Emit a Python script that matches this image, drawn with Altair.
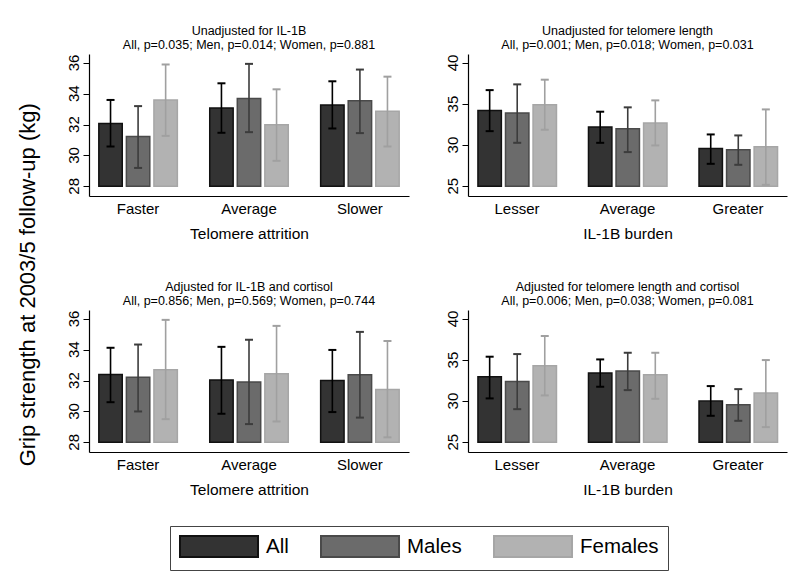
import altair as alt
import pandas as pd

FONT = "Liberation Sans"

series = ["All", "Males", "Females"]
fill_colors = ["#333333", "#6b6b6b", "#b2b2b2"]
stroke_colors = ["#111111", "#4a4a4a", "#a6a6a6"]
err_colors = ["#000000", "#3c3c3c", "#a0a0a0"]

telomere_groups = ["Faster", "Average", "Slower"]
il1b_groups = ["Lesser", "Average", "Greater"]

# Panel 1: Unadjusted for IL-1B (telomere attrition) -- order: group x series
p1_mean = [32.08, 31.23, 33.60, 33.08, 33.70, 31.99, 33.27, 33.55, 32.86]
p1_lo = [30.58, 29.19, 31.27, 31.47, 31.51, 29.65, 31.75, 31.45, 30.58]
p1_hi = [33.60, 33.20, 35.90, 34.68, 35.94, 34.29, 34.81, 35.57, 35.11]

# Panel 2: Unadjusted for telomere length (IL-1B burden)
p2_mean = [34.23, 33.90, 34.92, 32.20, 32.00, 32.68, 29.60, 29.43, 29.80]
p2_lo = [31.70, 30.28, 31.87, 30.28, 29.15, 29.96, 27.72, 27.60, 25.16]
p2_hi = [36.70, 37.40, 37.97, 34.07, 34.60, 35.45, 31.30, 31.18, 34.35]

# Panel 3: Adjusted for IL-1B and cortisol (telomere attrition)
p3_mean = [32.39, 32.22, 32.71, 32.04, 31.91, 32.45, 32.00, 32.38, 31.42]
p3_lo = [30.60, 30.00, 29.50, 29.85, 29.18, 29.35, 29.96, 29.60, 28.32]
p3_hi = [34.13, 34.34, 35.94, 34.19, 34.65, 35.55, 33.99, 35.16, 34.57]

# Panel 4: Adjusted for telomere length and cortisol (IL-1B burden)
p4_mean = [32.97, 32.40, 34.31, 33.41, 33.66, 33.21, 30.00, 29.55, 30.98]
p4_lo = [30.33, 29.02, 30.69, 31.75, 31.34, 30.28, 28.21, 27.60, 26.83]
p4_hi = [35.41, 35.73, 37.93, 35.08, 35.89, 35.89, 31.83, 31.46, 35.00]

titles = [
    ["Unadjusted for IL-1B", "All, p=0.035; Men, p=0.014; Women, p=0.881"],
    ["Unadjusted for telomere length", "All, p=0.001; Men, p=0.018; Women, p=0.031"],
    ["Adjusted for IL-1B and cortisol", "All, p=0.856; Men, p=0.569; Women, p=0.744"],
    ["Adjusted for telomere length and cortisol", "All, p=0.006; Men, p=0.038; Women, p=0.081"],
]
x_titles = ["Telomere attrition", "IL-1B burden"]
y_title = "Grip strength at 2003/5 follow-up (kg)"

left_ticks = [28, 30, 32, 34, 36]
right_ticks = [25, 30, 35, 40]


def make_df(groups, mean, lo, hi):
    rows = []
    i = 0
    for g in groups:
        for k, s in enumerate(series):
            rows.append({"group": g, "series": s, "mean": mean[i], "lo": lo[i],
                         "hi": hi[i], "ecol": err_colors[k]})
            i += 1
    return pd.DataFrame(rows)


legend = alt.Legend(
    title=None, orient="none", legendX=81, legendY=472, direction="horizontal",
    symbolType="M-1,-1H6.43V1H-1Z", symbolSize=441, symbolStrokeWidth=2,
    labelFontSize=20.5, labelFont=FONT, labelColor="black", labelOffset=64,
    columnPadding=28, padding=9, strokeColor="#444444", fillColor="white",
    symbolOpacity=1,
)


def panel(df, groups, title, xtitle, domain, base, ticks, width, pin, pout):
    x = alt.X("group:N", sort=groups, title=xtitle,
              scale=alt.Scale(paddingInner=pin, paddingOuter=pout),
              axis=alt.Axis(labelAngle=0, ticks=False, labelFontSize=15, labelFont=FONT,
                            labelColor="black", labelPadding=5, titleFontSize=15.5,
                            titleFont=FONT, titleFontWeight="normal", titleColor="black",
                            titlePadding=10, domainColor="black", domainWidth=1.2))
    xo = alt.XOffset("series:N", sort=series,
                     scale=alt.Scale(paddingInner=0.15, paddingOuter=0))
    yscale = alt.Scale(domain=domain, nice=False, zero=False)
    y_axis = alt.Axis(values=ticks, labels=False, tickSize=6, tickColor="black",
                      domainColor="black", domainWidth=1.2, grid=False, title=None)

    def yenc(field):
        return alt.Y(field, scale=yscale, axis=y_axis, title=None)

    bars = alt.Chart(df).mark_bar(strokeWidth=1.5, opacity=1).encode(
        x=x, xOffset=xo,
        y=yenc("mean:Q"),
        y2=alt.datum(base),
        color=alt.Color("series:N", sort=series, title=None,
                        scale=alt.Scale(domain=series, range=fill_colors), legend=legend),
        stroke=alt.Stroke("series:N", sort=series, title=None,
                          scale=alt.Scale(domain=series, range=stroke_colors), legend=legend),
    )
    rules = alt.Chart(df).mark_rule(strokeWidth=1.6).encode(
        x=x, xOffset=xo,
        y=yenc("lo:Q"), y2="hi:Q",
        color=alt.Color("ecol:N", scale=None),
    )
    cap_hi = alt.Chart(df).mark_tick(thickness=2, size=8, opacity=1).encode(
        x=x, xOffset=xo, y=yenc("hi:Q"),
        color=alt.Color("ecol:N", scale=None),
    )
    cap_lo = alt.Chart(df).mark_tick(thickness=2, size=8, opacity=1).encode(
        x=x, xOffset=xo, y=yenc("lo:Q"),
        color=alt.Color("ecol:N", scale=None),
    )
    tick_df = pd.DataFrame({"v": ticks})
    labels = alt.Chart(tick_df).mark_text(
        angle=270, fontSize=15, font=FONT, color="black", align="center", baseline="middle"
    ).encode(
        y=yenc("v:Q"),
        x=alt.value(-15),
        text=alt.Text("v:Q"),
    )
    return alt.layer(bars, rules, cap_hi, cap_lo, labels).properties(
        width=width, height=142,
        title=alt.TitleParams(title, fontSize=12.5, font=FONT, fontWeight="normal",
                              color="black", anchor="middle", offset=3, lineHeight=13.5),
    )


d1 = make_df(telomere_groups, p1_mean, p1_lo, p1_hi)
d2 = make_df(il1b_groups, p2_mean, p2_lo, p2_hi)
d3 = make_df(telomere_groups, p3_mean, p3_lo, p3_hi)
d4 = make_df(il1b_groups, p4_mean, p4_lo, p4_hi)

left_dom = [27.37, 36.58]
right_dom = [23.8, 41.1]

c1 = panel(d1, telomere_groups, titles[0], x_titles[0], left_dom, 28, left_ticks, 320, 0.292, 0.0886)
c2 = panel(d2, il1b_groups, titles[1], x_titles[1], right_dom, 25, right_ticks, 319, 0.294, 0.09)
c3 = panel(d3, telomere_groups, titles[2], x_titles[0], left_dom, 28, left_ticks, 320, 0.292, 0.0886)
c4 = panel(d4, il1b_groups, titles[3], x_titles[1], right_dom, 25, right_ticks, 319, 0.294, 0.09)

top = alt.hconcat(c1, c2, spacing=36)
bottom = alt.hconcat(c3, c4, spacing=36)

chart = alt.vconcat(top, bottom, spacing=39).properties(
    title=alt.TitleParams(y_title, orient="left", anchor="middle", fontSize=22, font=FONT,
                          fontWeight="normal", color="black", offset=27, dx=13),
    background="white",
    padding={"top": 17, "left": 8, "right": 5, "bottom": 5},
).configure_view(stroke=None)

chart.save("out.html", embed_options={"renderer": "svg", "actions": False})
